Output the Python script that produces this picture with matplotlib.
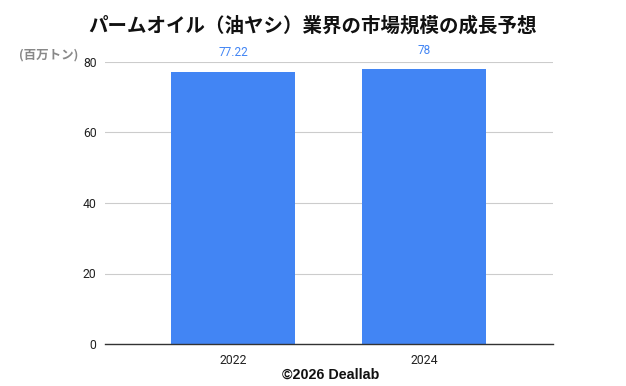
import matplotlib
matplotlib.use("Agg")
import matplotlib.pyplot as plt

plt.rcParams['font.family'] = ['Noto Sans CJK JP', 'DejaVu Sans']

categories = ["2022", "2024"]
values = [77.22, 78]
value_labels = ["77.22", "78"]
yticks = [0, 20, 40, 60, 80]

fig = plt.figure(figsize=(6.26, 3.86), dpi=100)
ax = fig.add_axes([105/626, 1-344/386, (553-105)/626, (344-62)/386])

x = list(range(len(categories)))
bars = ax.bar(x, values, width=0.65, color="#4285F4", zorder=3)
for xi, v, lab in zip(x, values, value_labels):
    ax.annotate(lab, (xi, v), xytext=(0, 9), textcoords="offset points",
                ha="center", va="bottom", fontsize=8.5, color="#4285F4",
                family=['Roboto', 'DejaVu Sans'])

ax.set_xlim(-0.67, 1.675)
ax.set_ylim(0, 80)
ax.set_yticks(yticks)
ax.set_xticks(x)
ax.set_xticklabels(categories)
for lbl in ax.get_xticklabels() + ax.get_yticklabels():
    lbl.set_family(['Roboto', 'DejaVu Sans'])
    lbl.set_fontsize(8.8)
    lbl.set_color("#222222")
ax.tick_params(length=0, pad=6)
ax.tick_params(axis='x', pad=7)
ax.grid(axis='y', color="#cccccc", linewidth=0.8, zorder=0)
for s in ["top", "right", "left"]:
    ax.spines[s].set_visible(False)
ax.spines["bottom"].set_color("#333333")
ax.spines["bottom"].set_linewidth(1.0)
ax.spines["bottom"].set_zorder(4)

fig.text(313/626, 1-26/386, "パームオイル（油ヤシ）業界の市場規模の成長予想",
         ha="center", va="center", fontsize=14, fontweight="bold", color="#111111")
fig.text(49/626, 1-55/386, "(百万トン)", ha="center", va="center",
         fontsize=9, fontweight="bold", color="#888888")
fig.text(331/626, 1-375/386, "©2026 Deallab", ha="center", va="center",
         fontsize=10.3, fontweight="bold", color="#111111",
         family=['Liberation Sans', 'DejaVu Sans'])

fig.savefig("out.png", dpi=100)
